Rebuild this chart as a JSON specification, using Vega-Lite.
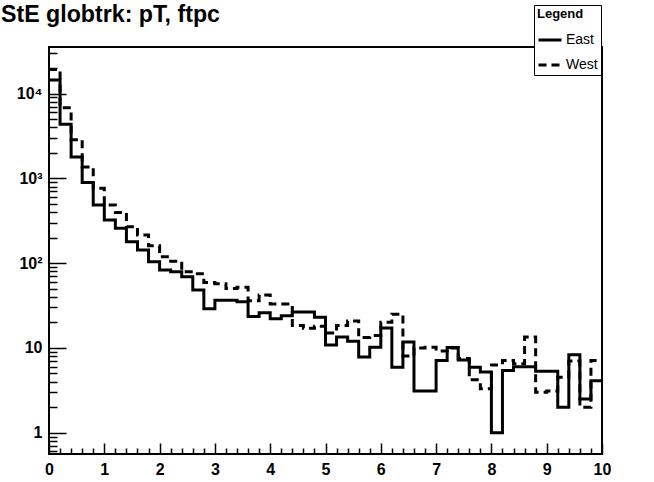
{
  "$schema": "https://vega.github.io/schema/vega-lite/v6.json",
  "width": 553,
  "height": 407,
  "autosize": {"type": "none"},
  "padding": {"left": 49, "top": 47, "right": 52, "bottom": 28},
  "background": "white",
  "title": {"text": "StE globtrk: pT, ftpc", "anchor": "start", "frame": "group", "dx": -48, "dy": 66, "offset": 25, "baseline": "alphabetic", "fontSize": 23.2, "fontWeight": "bold", "font": "Liberation Sans", "color": "black"},
  "config": {"view": {"stroke": "black", "strokeWidth": 2}, "font": "Liberation Sans"},
  "data": {"values": [
    {"series":"East","pt":0,"count":14400},{"series":"East","pt":0.2,"count":4330},{"series":"East","pt":0.4,"count":1780},{"series":"East","pt":0.6,"count":892},{"series":"East","pt":0.8,"count":486},
    {"series":"East","pt":1,"count":323},{"series":"East","pt":1.2,"count":257},{"series":"East","pt":1.4,"count":179},{"series":"East","pt":1.6,"count":143},{"series":"East","pt":1.8,"count":104},
    {"series":"East","pt":2,"count":83},{"series":"East","pt":2.2,"count":79},{"series":"East","pt":2.4,"count":69},{"series":"East","pt":2.6,"count":48},{"series":"East","pt":2.8,"count":29},
    {"series":"East","pt":3,"count":36.5},{"series":"East","pt":3.2,"count":36.5},{"series":"East","pt":3.4,"count":35},{"series":"East","pt":3.6,"count":23.5},{"series":"East","pt":3.8,"count":26},
    {"series":"East","pt":4,"count":22},{"series":"East","pt":4.2,"count":24},{"series":"East","pt":4.4,"count":26.5},{"series":"East","pt":4.6,"count":26.5},{"series":"East","pt":4.8,"count":23},
    {"series":"East","pt":5,"count":10.8},{"series":"East","pt":5.2,"count":13.4},{"series":"East","pt":5.4,"count":12},{"series":"East","pt":5.6,"count":7.8},{"series":"East","pt":5.8,"count":10.2},
    {"series":"East","pt":6,"count":17.2},{"series":"East","pt":6.2,"count":5.9},{"series":"East","pt":6.4,"count":11.7},{"series":"East","pt":6.6,"count":3.1},{"series":"East","pt":6.8,"count":3.1},
    {"series":"East","pt":7,"count":7.1},{"series":"East","pt":7.2,"count":10.1},{"series":"East","pt":7.4,"count":7.2},{"series":"East","pt":7.6,"count":5.9},{"series":"East","pt":7.8,"count":5.2},
    {"series":"East","pt":8,"count":1.0},{"series":"East","pt":8.2,"count":5.4},{"series":"East","pt":8.4,"count":6.0},{"series":"East","pt":8.6,"count":6.0},{"series":"East","pt":8.8,"count":5.3},
    {"series":"East","pt":9,"count":5.3},{"series":"East","pt":9.2,"count":2.0},{"series":"East","pt":9.4,"count":8.3},{"series":"East","pt":9.6,"count":2.5},{"series":"East","pt":9.8,"count":4.1},
    {"series":"East","pt":10,"count":4.1},
    {"series":"West","pt":0,"count":19200},{"series":"West","pt":0.2,"count":6800},{"series":"West","pt":0.4,"count":2860},{"series":"West","pt":0.6,"count":1360},{"series":"West","pt":0.8,"count":765},
    {"series":"West","pt":1,"count":486},{"series":"West","pt":1.2,"count":394},{"series":"West","pt":1.4,"count":269},{"series":"West","pt":1.6,"count":214},{"series":"West","pt":1.8,"count":160},
    {"series":"West","pt":2,"count":119},{"series":"West","pt":2.2,"count":105},{"series":"West","pt":2.4,"count":79},{"series":"West","pt":2.6,"count":75},{"series":"West","pt":2.8,"count":59},
    {"series":"West","pt":3,"count":57},{"series":"West","pt":3.2,"count":50},{"series":"West","pt":3.4,"count":52},{"series":"West","pt":3.6,"count":36},{"series":"West","pt":3.8,"count":42},
    {"series":"West","pt":4,"count":33},{"series":"West","pt":4.2,"count":33},{"series":"West","pt":4.4,"count":18.4},{"series":"West","pt":4.6,"count":17},{"series":"West","pt":4.8,"count":18},
    {"series":"West","pt":5,"count":15},{"series":"West","pt":5.2,"count":18.4},{"series":"West","pt":5.4,"count":20.8},{"series":"West","pt":5.6,"count":13.3},{"series":"West","pt":5.8,"count":14},
    {"series":"West","pt":6,"count":20},{"series":"West","pt":6.2,"count":25},{"series":"West","pt":6.4,"count":8},{"series":"West","pt":6.6,"count":10},{"series":"West","pt":6.8,"count":10.2},
    {"series":"West","pt":7,"count":9.2},{"series":"West","pt":7.2,"count":10},{"series":"West","pt":7.4,"count":7.5},{"series":"West","pt":7.6,"count":4.2},{"series":"West","pt":7.8,"count":3.3},
    {"series":"West","pt":8,"count":6.3},{"series":"West","pt":8.2,"count":7.1},{"series":"West","pt":8.4,"count":6.5},{"series":"West","pt":8.6,"count":13.4},{"series":"West","pt":8.8,"count":3.0},
    {"series":"West","pt":9,"count":3.1},{"series":"West","pt":9.2,"count":4.5},{"series":"West","pt":9.4,"count":7},{"series":"West","pt":9.6,"count":2.0},{"series":"West","pt":9.8,"count":7.1},
    {"series":"West","pt":10,"count":7.1}
  ]},
  "encoding": {
    "x": {"field": "pt", "type": "quantitative", "scale": {"domain": [0, 10], "nice": false, "zero": false}},
    "y": {"field": "count", "type": "quantitative", "scale": {"type": "log", "domain": [0.56, 35400], "nice": false}}
  },
  "layer": [
    {
      "mark": {"type": "line", "interpolate": "step-after", "strokeWidth": 3, "color": "black", "clip": true},
      "encoding": {
        "strokeDash": {"field": "series", "type": "nominal", "scale": {"domain": ["East", "West"], "range": [[1, 0], [8, 5]]},
          "legend": {"title": "Legend", "orient": "none", "legendX": 485, "legendY": -42, "strokeColor": "black", "fillColor": "white", "padding": 3,
            "titleFontSize": 13, "titleFontWeight": "bold", "titleColor": "black", "titlePadding": 6, "titleFont": "Liberation Sans",
            "labelFontSize": 14, "labelColor": "black", "labelFont": "Liberation Sans", "labelOffset": 3,
            "symbolType": "stroke", "symbolStrokeWidth": 3, "symbolSize": 529, "symbolStrokeColor": "black", "rowPadding": 5}},
        "x": {"field": "pt", "type": "quantitative", "axis": {"orient": "bottom", "title": null, "values": [0,1,2,3,4,5,6,7,8,9,10], "format": "d", "ticks": false, "domain": false, "grid": false, "labelPadding": 7, "labelFontSize": 16, "labelFontWeight": "bold", "labelColor": "black", "labelFlush": false, "labelOverlap": false}},
        "y": {"field": "count", "type": "quantitative", "axis": {"orient": "left", "title": null, "values": [1,10,100,1000,10000], "labelExpr": "datum.value == 1 ? '1' : datum.value == 10 ? '10' : datum.value == 100 ? '10²' : datum.value == 1000 ? '10³' : '10⁴'", "ticks": false, "domain": false, "grid": false, "labelPadding": 7, "labelFontSize": 16, "labelFontWeight": "bold", "labelColor": "black", "labelOverlap": false}}
      }
    },
    {
      "mark": {"type": "line", "strokeOpacity": 0},
      "encoding": {
        "x": {"field": "pt", "type": "quantitative", "axis": {"orient": "bottom", "title": null, "values": [0,1,2,3,4,5,6,7,8,9,10], "labels": false, "domain": false, "grid": false, "tickSize": -11, "tickWidth": 1.5, "tickColor": "black"}},
        "y": {"field": "count", "type": "quantitative", "axis": {"orient": "left", "title": null, "values": [1,10,100,1000,10000], "labels": false, "domain": false, "grid": false, "tickSize": -17, "tickWidth": 1.5, "tickColor": "black"}}
      }
    },
    {
      "mark": {"type": "line", "strokeOpacity": 0},
      "encoding": {
        "x": {"field": "pt", "type": "quantitative", "axis": {"orient": "bottom", "title": null, "values": [0.2,0.4,0.6,0.8,1.2,1.4,1.6,1.8,2.2,2.4,2.6,2.8,3.2,3.4,3.6,3.8,4.2,4.4,4.6,4.8,5.2,5.4,5.6,5.8,6.2,6.4,6.6,6.8,7.2,7.4,7.6,7.8,8.2,8.4,8.6,8.8,9.2,9.4,9.6,9.8], "labels": false, "domain": false, "grid": false, "tickSize": -6, "tickWidth": 1.5, "tickColor": "black"}},
        "y": {"field": "count", "type": "quantitative", "axis": {"orient": "left", "title": null, "values": [0.6,0.7,0.8,0.9,2,3,4,5,6,7,8,9,20,30,40,50,60,70,80,90,200,300,400,500,600,700,800,900,2000,3000,4000,5000,6000,7000,8000,9000,20000,30000], "labels": false, "domain": false, "grid": false, "tickSize": -8, "tickWidth": 1.5, "tickColor": "black"}}
      }
    }
  ],
  "resolve": {"axis": {"x": "independent", "y": "independent"}}
}
